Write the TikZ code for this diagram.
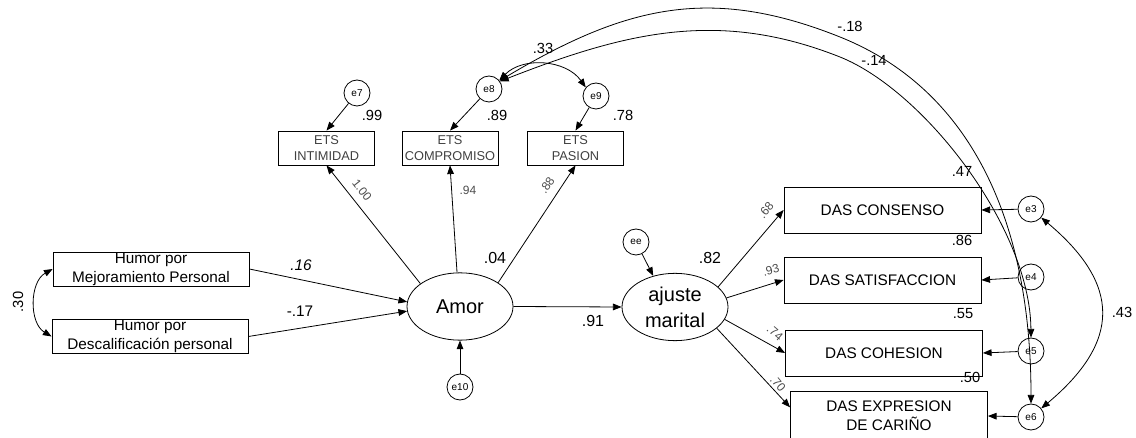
\documentclass[tikz,border=0pt]{standalone}
\usepackage{fontspec}
\setmainfont{Liberation Sans}
\usepackage{tikz}
\usetikzlibrary{shapes.geometric}
\usetikzlibrary{arrows.meta}

\tikzset{
  hbox/.style={draw, rectangle, minimum width=147pt, minimum height=25.5pt, inner sep=0pt, align=center, font=\fontsize{11.5}{14}\selectfont},
  etsbox/.style={draw, rectangle, minimum width=72pt, minimum height=25.5pt, inner sep=0pt, align=center, text=black!75, font=\fontsize{9.6}{12}\selectfont},
  dasbox/.style={draw, rectangle, minimum width=147.75pt, minimum height=34.5pt, inner sep=0pt, align=center, font=\fontsize{11.5}{14}\selectfont},
  latent/.style={draw, ellipse, minimum width=79.5pt, minimum height=50.5pt, inner sep=0pt, align=center, font=\fontsize{15}{19.5}\selectfont},
  errc/.style={draw, circle, minimum size=19.5pt, inner sep=0pt, font=\fontsize{7.5}{9}\selectfont},
  reg/.style={-{Triangle[length=6.5pt,width=5pt]}},
  cov/.style={{Triangle[length=6.5pt,width=5pt]}-{Triangle[length=6.5pt,width=5pt]}},
  coef/.style={inner sep=0.75pt, font=\fontsize{11}{13}\selectfont},
  load/.style={inner sep=0.75pt, text=black!70, font=\fontsize{9}{11}\selectfont},
}

\begin{document}
\begin{tikzpicture}[x=0.75pt,y=0.75pt,yscale=-1,xscale=1,line width=0.6pt]
	\useasboundingbox (0,0) rectangle (1136,438);

	%Shape: Rectangle [predictores]
	\node[hbox] (mejora) at (151,269) {Humor por\\Mejoramiento Personal};
	\node[hbox] (descal) at (150,336.5) {Humor por\\Descalificación personal};
	%Shape: Rectangle [ETS]
	\node[etsbox] (intim) at (326.5,148) {ETS\\INTIMIDAD};
	\node[etsbox] (compro) at (450,148) {ETS\\COMPROMISO};
	\node[etsbox] (pasion) at (575.5,148) {ETS\\PASION};
	%Shape: Rectangle [DAS]
	\node[dasbox] (consen) at (882.5,210) {DAS CONSENSO};
	\node[dasbox] (satisf) at (882.5,280) {DAS SATISFACCION};
	\node[dasbox] (cohes) at (884,353) {DAS COHESION};
	\node[dasbox, minimum height=37.5pt] (expres) at (889,416) {DAS EXPRESION\\DE CARIÑO};
	%Shape: Ellipse [latentes]
	\node[latent] (amor) at (460,306.5) {Amor};
	\node[latent] (ajuste) at (675,307) {ajuste\\marital};
	%Shape: Circle [errores]
	\node[errc] (e7) at (357,93) {e7};
	\node[errc] (e8) at (489,89) {e8};
	\node[errc] (e9) at (596,96) {e9};
	\node[errc] (e10) at (460,387) {e10};
	\node[errc] (ee) at (636,242) {ee};
	\node[errc] (e3) at (1031,209) {e3};
	\node[errc] (e4) at (1031,277) {e4};
	\node[errc] (e5) at (1031,351) {e5};
	\node[errc] (e6) at (1031,417) {e6};

	%Straight Lines [regresiones]
	\draw[reg] (mejora.east) -- (amor.175);
	\draw[reg] (descal.east) -- (amor.185);
	\draw[reg] (amor.150) -- (intim.south);
	\draw[reg] (amor.95) -- (compro.south);
	\draw[reg] (amor.32) -- (pasion.south);
	\draw[reg] (amor.east) -- (ajuste.west);
	\draw[reg] (ajuste.25) -- (consen.west);
	\draw[reg] (ajuste.10) -- (satisf.west);
	\draw[reg] (ajuste.-14) -- (cohes.west);
	\draw[reg] (ajuste.-27) -- (expres.175);
	%Straight Lines [errores]
	\draw[reg] (e7) -- (intim.north);
	\draw[reg] (e8) -- (compro.north);
	\draw[reg] (e9) -- (pasion.north);
	\draw[reg] (e10) -- (amor.south);
	\draw[reg] (ee) -- (ajuste.125);
	\draw[reg] (e3) -- (consen.east);
	\draw[reg] (e4) -- (satisf.east);
	\draw[reg] (e5) -- (cohes.east);
	\draw[reg] (e6) -- (expres.east);

	%Curve Lines [covarianzas]
	\draw[cov] (mejora.west) to[bend left=60] (descal.west);
	\draw[cov] (e8.40) to[bend right=50] (e9.140);
	\draw[cov] (e3.-40) to[out=40,in=-40,looseness=1.4] (e6.40);
	\draw[cov] (e8.35) .. controls (626,32) and (719,9) .. (840,57) .. controls (923.5,90.4) and (1030,227) .. (e5.north);
	\draw[cov] (e8.38) .. controls (625,6) and (710,-15) .. (840,37) .. controls (979,92.7) and (1031,234) .. (e6.north);

	% Text Node
	\node[coef, rotate=90] (r30) at (18,302) {.30};
	\node[coef, font=\fontsize{11.5}{13}\selectfont] (b16) at (301,265) {\textit{.16}};
	\node[coef, font=\fontsize{11.5}{13}\selectfont] (b17) at (300,311) {-.17};
	\node[load, rotate=-52] (l100) at (362,190) {1.00};
	\node[load] (l94) at (468,190) {.94};
	\node[load, rotate=55] (l88) at (547,185) {.88};
	\node[coef] (r99) at (372,115) {.99};
	\node[coef] (r89) at (497,115) {.89};
	\node[coef] (r78) at (623,115) {.78};
	\node[coef] (r33) at (543,48) {.33};
	\node[coef, font=\fontsize{12}{14}\selectfont] (r04) at (495,258) {.04};
	\node[coef, font=\fontsize{12}{14}\selectfont] (b91) at (593,321) {.91};
	\node[coef, font=\fontsize{12}{14}\selectfont] (r82) at (710,258) {.82};
	\node[coef] (r18) at (850,26) {-.18};
	\node[coef] (r14) at (874,60) {-.14};
	\node[load, rotate=50] (l68) at (766,210) {.68};
	\node[load, rotate=15] (l93) at (771,270) {.93};
	\node[load, rotate=-40] (l74) at (775,333) {.74};
	\node[load, rotate=-50] (l70) at (778,384) {.70};
	\node[coef] (r47) at (962,171) {.47};
	\node[coef] (r86) at (962,240) {.86};
	\node[coef] (r55) at (963,314) {.55};
	\node[coef] (r50) at (970,377) {.50};
	\node[coef] (r43) at (1122,312) {.43};

\end{tikzpicture}
\end{document}
